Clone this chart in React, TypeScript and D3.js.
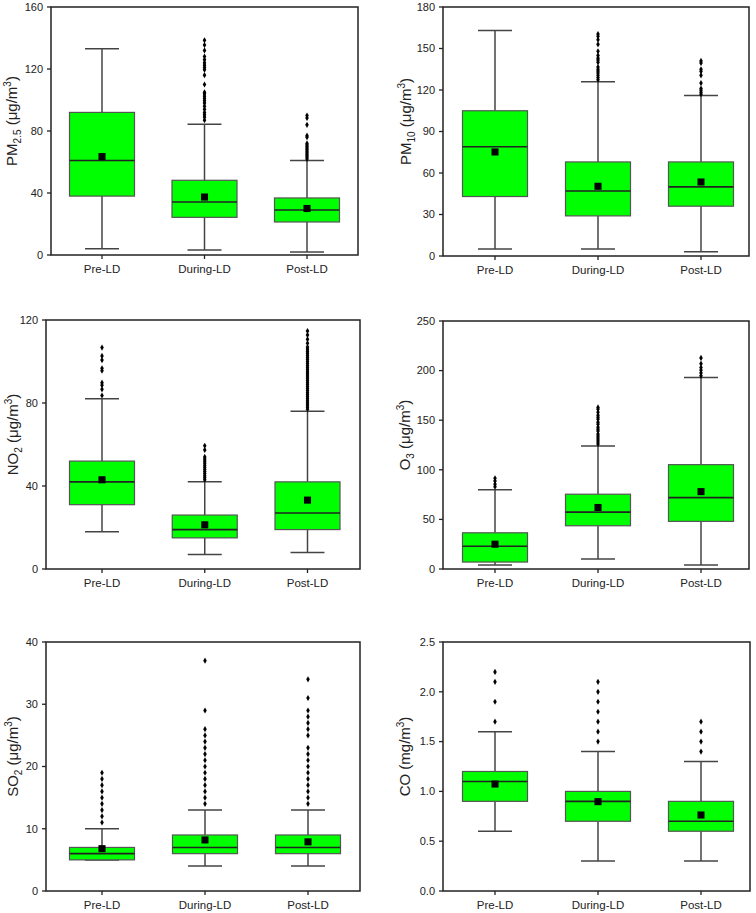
import React from 'react';
import * as d3 from 'd3';

const periods = ['Pre-LD', 'During-LD', 'Post-LD'];

// box stats per period: [min, q1, median, q3, max, mean]
const pm25Stats = [[4, 38, 61, 92, 133, 63.5], [3.2, 24.3, 34.2, 48.2, 84.3, 37.4], [1.9, 21.3, 29, 36.8, 61, 30]];
const pm25Outliers = [
  [],
  [138.5, 135.5, 132, 128, 126, 124, 122.5, 121, 119.5, 116, 110, 105, 104, 102.5, 101, 99.5, 98, 96, 94, 92, 90.5, 89, 87],
  [90, 88.4, 84, 77, 76, 72, 71, 70, 69, 68, 67, 66, 65, 64, 63, 62],
];

const pm10Stats = [[5, 43, 79, 105, 163, 75.2], [5, 29, 47, 68, 126, 50.4], [3, 36, 50, 68, 116, 53.5]];
const pm10Outliers = [
  [],
  [160.5, 158.8, 156.4, 153, 148, 145, 143, 141.6, 140, 136.6, 135, 133.7, 132.3, 130.6, 129, 127.5],
  [141, 139.5, 135, 133.5, 130.6, 125, 121, 119.8, 118.3, 116.9],
];

const no2Stats = [[18, 31, 42, 52, 82, 43], [7, 15, 19, 26, 42, 21.3], [8, 19, 27, 42, 76, 33.2]];
const no2Outliers = [
  [106.7, 102.7, 100.7, 96.7, 95.6, 89.8, 88.6, 86.6, 83.6],
  [59.4, 57.4, 54, 53, 52, 51, 50, 49, 48, 47, 46, 45, 44, 43],
  [114.7, 112.8, 110.7, 108.8, 107, 106, 105, 104, 103, 102, 101, 100, 99, 98, 97, 96, 95, 94, 93, 92, 91,
    90, 89, 88, 87, 86, 85, 84, 83, 82, 81, 80, 79, 78, 77],
];

const o3Stats = [[4, 7, 23, 36.5, 80, 25], [10, 43.6, 57.3, 75.4, 124, 62], [4, 48, 72, 105.2, 193, 78]];
const o3Outliers = [
  [91.5, 88.8, 85.5, 83],
  [162.9, 161, 158, 155, 153, 151, 148, 146, 143, 141, 139, 136, 134, 132, 130, 128, 126],
  [212.8, 207, 203, 200.4, 197.7, 194.7],
];

const so2Stats = [[5, 5, 6, 7, 10, 6.8], [4, 6, 7, 9, 13, 8.2], [4, 6, 7, 9, 13, 7.9]];
const so2Outliers = [
  [11, 12, 13, 14, 15, 16, 17, 18, 19],
  [14, 15, 16, 17, 18, 19, 20, 21, 22, 23, 24, 25, 26, 29, 37],
  [14, 15, 16, 17, 18, 19, 20, 21, 22, 23, 25, 26, 27, 28, 29, 31, 34],
];

const coStats = [[0.6, 0.9, 1.1, 1.2, 1.6, 1.074], [0.3, 0.7, 0.9, 1.0, 1.4, 0.897], [0.3, 0.6, 0.7, 0.9, 1.3, 0.763]];
const coOutliers = [
  [1.7, 1.9, 2.1, 2.2],
  [1.5, 1.6, 1.7, 1.8, 1.9, 2.0, 2.1],
  [1.4, 1.5, 1.6, 1.7],
];

const pm25Ticks = [0, 40, 80, 120, 160];
const pm10Ticks = [0, 30, 60, 90, 120, 150, 180];
const no2Ticks = [0, 40, 80, 120];
const o3Ticks = [0, 50, 100, 150, 200, 250];
const so2Ticks = [0, 10, 20, 30, 40];
const coTicks = [0, 0.5, 1.0, 1.5, 2.0, 2.5];

const FONT = '"Liberation Sans", Arial, Helvetica, sans-serif';

const panels = [
  { name: 'PM', sub: '2.5', unit: 'μg/m', stats: pm25Stats, outliers: pm25Outliers, ticks: pm25Ticks, fmt: d3.format('d'),
    frame: [51, 7, 358, 255], centers: [102, 307], titleX: 17 },
  { name: 'PM', sub: '10', unit: 'μg/m', stats: pm10Stats, outliers: pm10Outliers, ticks: pm10Ticks, fmt: d3.format('d'),
    frame: [443, 7, 749, 256], centers: [495, 701], titleX: 411 },
  { name: 'NO', sub: '2', unit: 'μg/m', stats: no2Stats, outliers: no2Outliers, ticks: no2Ticks, fmt: d3.format('d'),
    frame: [46, 320, 360, 569], centers: [102, 307.5], titleX: 18 },
  { name: 'O', sub: '3', unit: 'μg/m', stats: o3Stats, outliers: o3Outliers, ticks: o3Ticks, fmt: d3.format('d'),
    frame: [443, 321, 749, 569], centers: [495, 701], titleX: 410 },
  { name: 'SO', sub: '2', unit: 'μg/m', stats: so2Stats, outliers: so2Outliers, ticks: so2Ticks, fmt: d3.format('d'),
    frame: [46, 642, 360, 891], centers: [102, 308], titleX: 18 },
  { name: 'CO', sub: '', unit: 'mg/m', stats: coStats, outliers: coOutliers, ticks: coTicks, fmt: d3.format('.1f'),
    frame: [443, 642, 750, 891], centers: [495, 701], titleX: 410 },
];

const boxWidth = 65;
const capWidth = 34;

const diamond = d3.symbol().type(d3.symbolDiamond).size(11)();
const square = d3.symbol().type(d3.symbolSquare).size(50)();

function Panel({ p }) {
  const [x0, y0, x1, y1] = p.frame;
  const ticks = p.ticks;
  const y = d3.scaleLinear().domain([ticks[0], ticks[ticks.length - 1]]).range([y1, y0]);
  const x = d3.scalePoint().domain(periods).range(p.centers);
  const titleY = (y0 + y1) / 2 - 10;

  return (
    <g>
      {/* boxes */}
      {periods.map((c, i) => {
        const [mn, q1, md, q3, mx, mean] = p.stats[i];
        const cx = x(c);
        return (
          <g key={c}>
            <line x1={cx} x2={cx} y1={y(mx)} y2={y(q3)} stroke="#444" strokeWidth={1.5} />
            <line x1={cx} x2={cx} y1={y(q1)} y2={y(mn)} stroke="#444" strokeWidth={1.5} />
            <line x1={cx - capWidth / 2} x2={cx + capWidth / 2} y1={y(mx)} y2={y(mx)} stroke="#444" strokeWidth={1.5} />
            <line x1={cx - capWidth / 2} x2={cx + capWidth / 2} y1={y(mn)} y2={y(mn)} stroke="#444" strokeWidth={1.5} />
            <rect x={cx - boxWidth / 2} y={y(q3)} width={boxWidth} height={y(q1) - y(q3)}
              fill="#00ff00" stroke="#555" strokeWidth={1.2} />
            <line x1={cx - boxWidth / 2} x2={cx + boxWidth / 2} y1={y(md)} y2={y(md)} stroke="#222" strokeWidth={1.6} />
            <path d={square} transform={`translate(${cx},${y(mean)})`} fill="#000" />
            {p.outliers[i].map((v, k) => (
              <path key={k} d={diamond} transform={`translate(${cx},${y(v)})`} fill="#000" />
            ))}
          </g>
        );
      })}

      {/* frame */}
      <rect x={x0} y={y0} width={x1 - x0} height={y1 - y0} fill="none" stroke="#222" strokeWidth={1.5} />

      {/* y axis */}
      {ticks.map((t) => (
        <g key={t}>
          <line x1={x0 - 4} x2={x0} y1={y(t)} y2={y(t)} stroke="#222" strokeWidth={1.3} />
          <text x={x0 - 8} y={y(t)} dy="0.35em" textAnchor="end" fontSize={11} fill="#222" fontFamily={FONT}>
            {p.fmt(t)}
          </text>
        </g>
      ))}

      {/* x axis */}
      {periods.map((c) => (
        <g key={c}>
          <line x1={x(c)} x2={x(c)} y1={y1} y2={y1 + 4} stroke="#222" strokeWidth={1.3} />
          <text x={x(c)} y={y1 + 18} textAnchor="middle" fontSize={11.5} fill="#222" fontFamily={FONT}>{c}</text>
        </g>
      ))}

      {/* axis title */}
      <text transform={`translate(${p.titleX},${titleY}) rotate(-90)`} textAnchor="middle"
        fontSize={15} fill="#222" fontFamily={FONT}>
        {p.name}
        {p.sub ? <tspan fontSize={10} dy={4}>{p.sub}</tspan> : null}
        <tspan dy={p.sub ? -4 : 0}>{' (' + p.unit}</tspan>
        <tspan fontSize={10} dy={-6}>3</tspan>
        <tspan dy={6}>)</tspan>
      </text>
    </g>
  );
}

export default function App() {
  return (
    <svg width={756} height={913} style={{ position: 'absolute', left: 0, top: 0, background: '#fff' }}>
      {panels.map((p, i) => <Panel key={i} p={p} />)}
    </svg>
  );
}
